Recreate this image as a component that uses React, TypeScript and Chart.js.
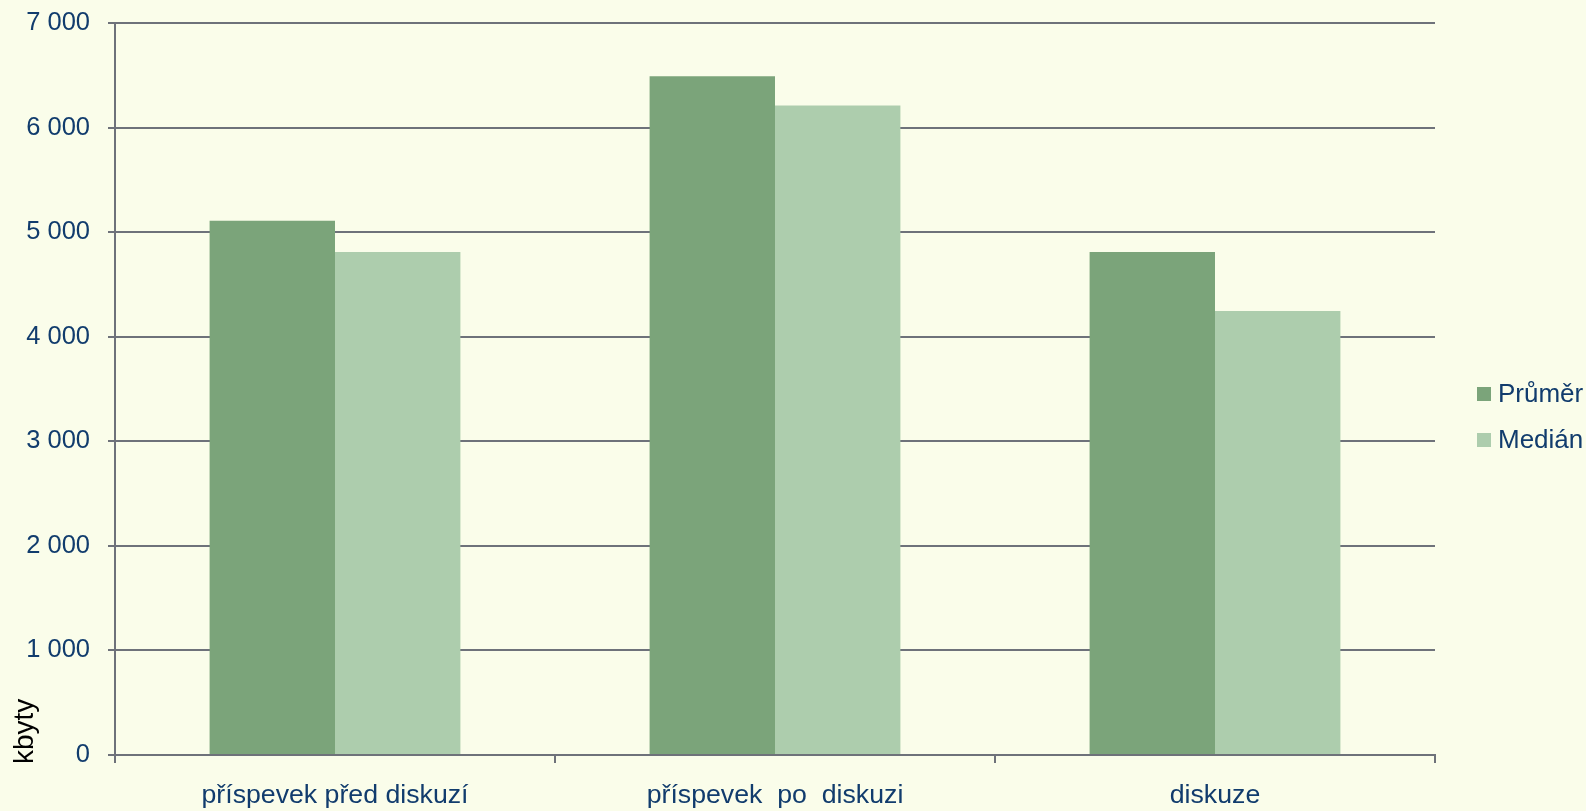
import React, { useEffect, useRef } from "react";
import { Chart, registerables } from "chart.js";

Chart.register(...registerables);

const categories = ["příspevek před diskuzí", "příspevek  po  diskuzi", "diskuze"];
const prumer = [5110, 6490, 4810];
const median = [4810, 6210, 4245];
const seriesNames = ["Průměr", "Medián"];
const yTicksMax = 7000;
const yStep = 1000;
const yTitle = "kbyty";

const BG = "#fafdea";
const NAVY = "#113c6d";
const GRID = "#6e727a";
const C1 = "#7ba47a";
const C2 = "#adcdad";
const FONT = "'Liberation Sans', Arial, sans-serif";

const fmt = (v: number) => String(v).replace(/\B(?=(\d{3})+(?!\d))/g, " ");

const extrasPlugin = {
  id: "extras",
  afterDraw(chart: any) {
    const ctx = chart.ctx;
    ctx.save();
    // y axis title
    ctx.fillStyle = "#000000";
    ctx.font = `28px ${FONT}`;
    ctx.textAlign = "left";
    ctx.textBaseline = "alphabetic";
    ctx.translate(33, 764);
    ctx.rotate(-Math.PI / 2);
    ctx.fillText(yTitle, 0, 0);
    ctx.restore();

    // legend
    ctx.save();
    const items = chart.data.datasets;
    const baseY = 387;
    const gap = 46;
    items.forEach((ds: any, i: number) => {
      const y = baseY + i * gap;
      ctx.fillStyle = ds.backgroundColor;
      ctx.fillRect(1477, y, 14, 14);
      ctx.fillStyle = NAVY;
      ctx.font = `26px ${FONT}`;
      ctx.textAlign = "left";
      ctx.textBaseline = "middle";
      ctx.fillText(ds.label, 1498, y + 8);
    });
    ctx.restore();
  },
};

export default function App() {
  const ref = useRef<HTMLCanvasElement | null>(null);

  useEffect(() => {
    if (!ref.current) return;
    const chart = new Chart(ref.current, {
      type: "bar",
      data: {
        labels: categories,
        datasets: [
          { label: seriesNames[0], data: prumer, backgroundColor: C1, borderWidth: 0 },
          { label: seriesNames[1], data: median, backgroundColor: C2, borderWidth: 0 },
        ],
      },
      plugins: [extrasPlugin],
      options: {
        animation: false,
        responsive: true,
        maintainAspectRatio: false,
        layout: { padding: { top: 23, right: 151, left: 0, bottom: 0 } },
        datasets: { bar: { categoryPercentage: 0.57, barPercentage: 1 } },
        plugins: { legend: { display: false }, tooltip: { enabled: false } },
        scales: {
          x: {
            afterFit: (s: any) => {
              s.height = 56;
              s.paddingLeft = 0;
              s.paddingRight = 0;
            },
            grid: {
              offset: true,
              drawOnChartArea: false,
              drawTicks: true,
              tickLength: 8,
              color: GRID,
              lineWidth: 2,
            },
            border: { color: GRID, width: 2 },
            ticks: {
              color: NAVY,
              font: { family: FONT, size: 26.7 },
              padding: 17,
              maxRotation: 0,
              autoSkip: false,
            },
          },
          y: {
            min: 0,
            max: yTicksMax,
            afterFit: (s: any) => {
              s.width = 115;
              s.paddingTop = 0;
              s.paddingBottom = 0;
            },
            grid: { color: GRID, lineWidth: 2, tickLength: 7 },
            border: { color: GRID, width: 2 },
            ticks: {
              stepSize: yStep,
              color: NAVY,
              font: { family: FONT, size: 25.5 },
              padding: 18,
              callback: (v: any) => fmt(Number(v)),
            },
          },
        },
      },
    });
    return () => chart.destroy();
  }, []);

  return (
    <div
      style={{
        position: "fixed",
        left: 0,
        top: 0,
        width: 1586,
        height: 811,
        background: BG,
      }}
    >
      <canvas ref={ref} />
    </div>
  );
}
